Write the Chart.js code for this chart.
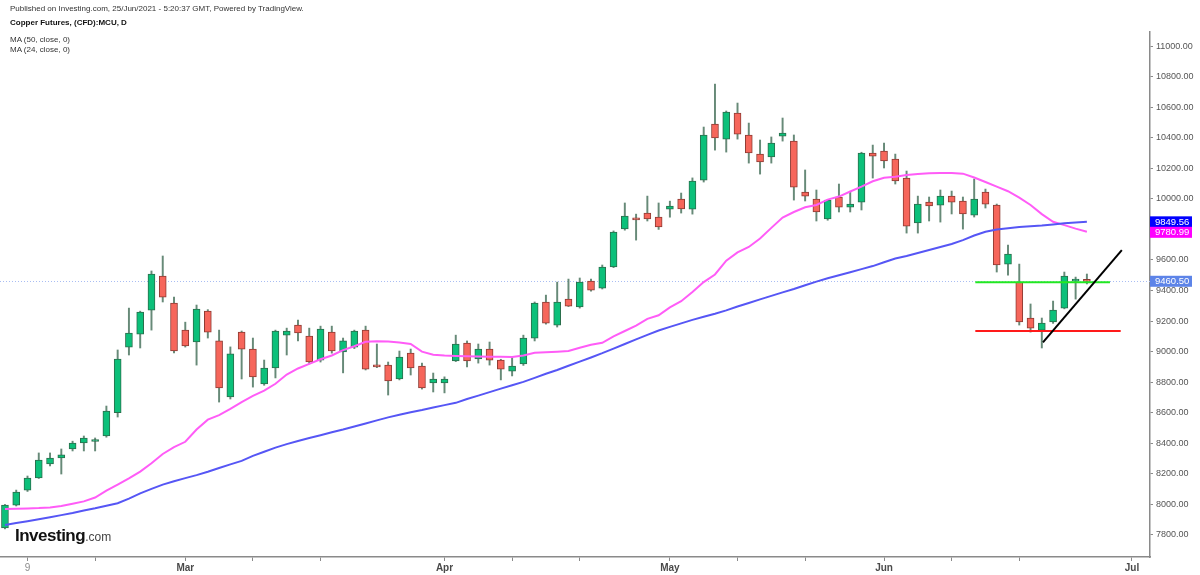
<!DOCTYPE html>
<html>
<head>
<meta charset="utf-8">
<script src="https://cdn.jsdelivr.net/npm/chart.js@4.4.0/dist/chart.umd.min.js"></script>
<style>
body { margin: 0; background: #fff; font-family: "Liberation Sans", Arial, sans-serif; }
#wrap { position: relative; width: 1200px; height: 575px; }
.txt { position: absolute; left: 10px; white-space: nowrap; line-height: 1; }
</style>
</head>
<body>
<div id="wrap">
<canvas id="chart" width="1200" height="575"></canvas>
<div class="txt" style="top:5px;font-size:8px;color:#333">Published on Investing.com, 25/Jun/2021 - 5:20:37 GMT, Powered by TradingView.</div>
<div class="txt" style="top:19px;font-size:8px;font-weight:bold;color:#111">Copper Futures, (CFD):MCU, D</div>
<div class="txt" style="top:36px;font-size:8px;color:#333">MA (50, close, 0)</div>
<div class="txt" style="top:46px;font-size:8px;color:#333">MA (24, close, 0)</div>
<div class="txt" style="left:15px;top:527px;color:#111"><span style="font-size:17px;font-weight:bold;letter-spacing:-0.5px">Investing</span><span style="font-size:12px;color:#444">.com</span></div>
</div>
<script>
// daily candles, index 0 = first visible session (early Feb 2021)
var candleOpen = [
  7846,7996,8094,8173,8265,8304,8363,8402,8412,8448,
  8600,9030,9115,9272,9495,9318,9141,9063,9266,9070,
  8704,9128,9017,8788,8893,9108,9174,9102,8945,9128,
  8998,9030,9141,8905,8912,8821,8991,8906,8795,8795,
  8939,9056,8952,9017,8945,8873,8919,9089,9325,9174,
  9344,9292,9462,9416,9554,9803,9875,9907,9881,9933,
  9999,9933,10123,10490,10391,10562,10418,10293,10274,10411,
  10378,10044,9999,9868,10012,9946,9979,10300,10313,10261,
  10136,9842,9979,9959,10018,9986,9894,10044,9959,9573,
  9456,9220,9141,9194,9285,9462,9469
];
var candleHigh = [
  8000,8094,8186,8337,8337,8363,8414,8448,8435,8644,
  9011,9285,9265,9528,9626,9357,9193,9305,9275,9141,
  9031,9135,9089,8945,9141,9154,9207,9154,9167,9167,
  9089,9141,9167,9050,8932,9004,9017,8925,8860,8835,
  9108,9070,9050,9063,8950,8965,9108,9325,9370,9455,
  9475,9482,9475,9567,9790,9973,9900,10018,9973,9985,
  10038,10137,10470,10751,10575,10627,10496,10385,10405,10529,
  10418,10189,10058,9995,10097,10044,10305,10352,10365,10293,
  10182,10018,10012,10058,10051,10012,10130,10064,9966,9698,
  9573,9312,9220,9331,9521,9488,9508
];
var candleLow = [
  7840,7990,8085,8170,8252,8199,8350,8350,8350,8440,
  8572,8978,9024,9141,9325,8991,9030,8912,9089,8670,
  8690,8821,8768,8780,8828,8978,9070,8920,8932,8990,
  8861,9020,8880,8895,8716,8815,8847,8755,8736,8730,
  8935,8900,8925,8912,8815,8841,8910,9070,9180,9161,
  9295,9285,9395,9410,9550,9795,9730,9855,9800,9880,
  9907,9900,10110,10319,10306,10391,10234,10162,10234,10378,
  9992,9986,9855,9860,9914,9914,9927,10136,10202,10097,
  9776,9776,9855,9848,9901,9802,9881,9940,9521,9501,
  9174,9128,9024,9185,9280,9344,9443
];
var candleClose = [
  7996,8081,8173,8291,8304,8324,8402,8435,8418,8611,
  8952,9122,9259,9508,9357,9004,9037,9278,9128,8762,
  8985,9017,8834,8893,9134,9134,9122,8932,9148,9004,
  9070,9134,8886,8900,8808,8965,8893,8762,8821,8821,
  9050,8939,9017,8945,8886,8906,9089,9318,9187,9325,
  9298,9455,9403,9554,9783,9888,9862,9868,9816,9953,
  9934,10116,10418,10398,10568,10424,10300,10241,10365,10431,
  10077,10018,9914,9992,9946,9966,10300,10280,10248,10117,
  9822,9966,9953,10018,9979,9901,9999,9966,9567,9639,
  9194,9154,9187,9272,9495,9469,9460
];
var ma50 = [
  7866,7878,7890,7903,7916,7930,7944,7960,7975,7992,
  8008,8038,8072,8102,8130,8152,8172,8192,8214,8238,
  8262,8285,8318,8345,8372,8395,8415,8435,8453,8472,
  8490,8510,8530,8550,8570,8587,8603,8618,8635,8650,
  8665,8690,8712,8735,8758,8780,8802,8828,8855,8880,
  8908,8935,8962,8990,9020,9050,9080,9110,9138,9162,
  9185,9208,9228,9248,9270,9295,9318,9342,9365,9388,
  9410,9435,9458,9480,9500,9520,9540,9560,9585,9610,
  9626,9645,9665,9685,9705,9730,9760,9785,9800,9808,
  9815,9820,9825,9832,9840,9845,9850
];
var ma24 = [
  7970,7972,7974,7976,7980,7990,8005,8020,8045,8090,
  8130,8170,8215,8270,8330,8375,8410,8490,8555,8585,
  8625,8670,8710,8745,8790,8850,8890,8920,8950,8975,
  9010,9035,9065,9068,9066,9060,9050,9000,8980,8975,
  8972,8970,8968,8966,8966,8965,8975,8992,8996,9000,
  9004,9025,9045,9058,9100,9135,9170,9215,9238,9290,
  9330,9390,9455,9505,9595,9650,9685,9740,9810,9878,
  9914,9945,9960,9995,10015,10048,10080,10115,10138,10145,
  10156,10162,10167,10169,10169,10165,10140,10110,10080,10050,
  10008,9960,9900,9850,9828,9805,9785
];

// x axis ticks (session index) and their labels
var xTickIndex  = [2, 8, 16, 22, 28, 39, 45, 51, 59, 65, 71, 78, 84, 90, 100];
var xTickLabels = ['9', '', 'Mar', '', '', 'Apr', '', '', 'May', '', '', 'Jun', '', '', 'Jul'];
var yTicks = [7800,8000,8200,8400,8600,8800,9000,9200,9400,9600,9800,10000,10200,10400,10600,10800,11000];

// hand drawn levels
var resistanceX = [86.1, 98.05], resistanceY = [9454, 9454];
var supportX = [86.1, 99.0], supportY = [9135, 9135];
var trendX = [92.1, 99.1], trendY = [9061, 9665];

// last values shown on the price scale
var lastMa50 = 9849.56, lastMa24 = 9780.99, lastPrice = 9460.50;

var up = candleOpen.map(function(o, i){ return candleClose[i] >= o; });

function pts(xs, ys) {
    return xs.map(function(x, i){ return {x: x, y: ys[i]}; });
}

var priceTags = {
    id: 'priceTags',
    beforeDatasetsDraw: function(chart) {
        var c = chart.ctx, a = chart.chartArea, y = chart.scales.y.getPixelForValue(lastPrice);
        c.save();
        c.strokeStyle = '#a9bdf3';
        c.lineWidth = 1;
        c.setLineDash([1, 2]);
        c.beginPath();
        c.moveTo(a.left, Math.round(y) + 0.5);
        c.lineTo(a.right, Math.round(y) + 0.5);
        c.stroke();
        c.restore();
    },
    afterDraw: function(chart) {
        var c = chart.ctx, a = chart.chartArea, ys = chart.scales.y;
        var tags = [[lastMa50, '#0000ff'], [lastMa24, '#ff00ff'], [lastPrice, '#5d84e8']];
        c.save();
        c.font = '9.5px "Liberation Sans", Arial, sans-serif';
        c.textBaseline = 'middle';
        tags.forEach(function(t) {
            var y = ys.getPixelForValue(t[0]);
            c.fillStyle = t[1];
            c.fillRect(a.right, y - 5.5, 42, 11);
            c.fillStyle = '#fff';
            c.fillText(t[0].toFixed(2), a.right + 5, y + 0.5);
        });
        c.restore();
    }
};

var ctx = document.getElementById('chart').getContext('2d');
var myChart = new Chart(ctx, {
    type: 'bar',
    data: {
        datasets: [
            {
                type: 'line', data: pts(trendX, trendY), borderColor: '#000', borderWidth: 2,
                pointRadius: 0, order: 0
            },
            {
                type: 'line', data: pts(resistanceX, resistanceY), borderColor: '#22e822', borderWidth: 2,
                pointRadius: 0, order: 0
            },
            {
                type: 'line', data: pts(supportX, supportY), borderColor: '#ff1a1a', borderWidth: 2,
                pointRadius: 0, order: 0
            },
            {
                type: 'line', data: ma50.map(function(v, i){ return {x: i, y: v}; }),
                borderColor: '#5656f5', borderWidth: 2, pointRadius: 0, order: 1
            },
            {
                type: 'line', data: ma24.map(function(v, i){ return {x: i, y: v}; }),
                borderColor: '#ff5cf7', borderWidth: 2, pointRadius: 0, order: 1
            },
            {
                data: candleOpen.map(function(o, i){ return {x: i, y: [o, candleClose[i]]}; }),
                backgroundColor: up.map(function(u){ return u ? '#0cc07a' : '#f6665b'; }),
                borderColor: up.map(function(u){ return u ? '#2b6e4c' : '#8e3b33'; }),
                borderWidth: 1, borderSkipped: false, barThickness: 7, minBarLength: 2,
                grouped: false, order: 2
            },
            {
                data: candleLow.map(function(l, i){ return {x: i, y: [l, candleHigh[i]]}; }),
                backgroundColor: '#678a78', borderWidth: 0, barThickness: 1.3,
                grouped: false, order: 3
            }
        ]
    },
    options: {
        responsive: false,
        animation: false,
        layout: { padding: { top: 32, left: 0, right: 0, bottom: 0 } },
        plugins: { legend: { display: false }, tooltip: { enabled: false } },
        scales: {
            x: {
                type: 'linear', min: -0.44, max: 101.6, offset: false,
                afterFit: function(s){ s.height = 18; },
                afterBuildTicks: function(s){ s.ticks = xTickIndex.map(function(v){ return {value: v}; }); },
                grid: { drawOnChartArea: false, offset: false, tickLength: 4, color: '#8a8a8a' },
                border: { color: '#8a8a8a', width: 1.5 },
                ticks: {
                    autoSkip: false, maxRotation: 0, padding: 1,
                    callback: function(v){ var k = xTickIndex.indexOf(v); return k >= 0 ? xTickLabels[k] : ''; },
                    color: function(c){ return c.tick && c.tick.label === '9' ? '#8c8c8c' : '#4a4a4a'; },
                    font: function(c){
                        var big = c.tick && c.tick.label.length > 1;
                        return { family: '"Liberation Sans", Arial, sans-serif', size: 10, weight: big ? 'bold' : 'normal' };
                    }
                }
            },
            y: {
                position: 'right', min: 7656, max: 11092,
                afterFit: function(s){ s.width = 50; },
                afterBuildTicks: function(s){ s.ticks = yTicks.map(function(v){ return {value: v}; }); },
                grid: { drawOnChartArea: false, tickLength: 3, color: '#8a8a8a' },
                border: { color: '#8a8a8a', width: 1.5 },
                ticks: {
                    padding: 3, color: '#555',
                    font: { family: '"Liberation Sans", Arial, sans-serif', size: 9 },
                    callback: function(v){ return Number(v).toFixed(2); }
                }
            }
        }
    },
    plugins: [priceTags]
});
</script>
</body>
</html>
